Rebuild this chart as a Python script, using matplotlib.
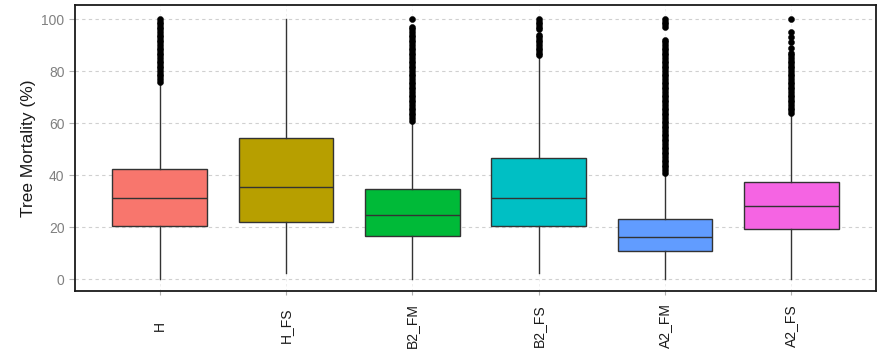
import matplotlib
matplotlib.use("Agg")
import matplotlib.pyplot as plt

plt.rcParams["font.family"] = ["Liberation Sans", "DejaVu Sans"]

# Scenarios and their tree-mortality distribution summaries (%)
scenarios = ["H", "H_FS", "B2_FM", "B2_FS", "A2_FM", "A2_FS"]
q1 = [20.6, 21.9, 16.8, 20.6, 11.0, 19.4]
median = [31.1, 35.6, 24.8, 31.1, 16.1, 28.3]
q3 = [42.5, 54.2, 34.6, 46.6, 23.2, 37.4]
whisker_low = [0.0, 2.3, 0.0, 2.5, 0.0, 0.0]
whisker_high = [75.0, 100.0, 60.0, 85.0, 40.5, 63.0]

# Outlying values above the upper whiskers
outliers_H = [76, 77, 78, 79, 80, 81, 82, 83, 84, 85, 86, 87, 88, 89, 90,
              91, 92, 93, 94, 95, 96, 97, 98, 99, 100]
outliers_H_FS = []
outliers_B2_FM = [61, 62, 63, 64, 65, 66, 67, 68, 69, 70, 71, 72, 73, 74, 75,
                  76, 77, 78, 79, 80, 81, 82, 83, 84, 85, 86, 87, 88, 89, 90,
                  91, 92, 93, 94, 95, 96, 97, 100]
outliers_B2_FS = [86, 87, 88, 89, 90, 91, 92, 93, 94, 96, 97, 98, 99, 100]
outliers_A2_FM = [41, 42, 43, 44, 45, 46, 47, 48, 49, 50, 51, 52, 53, 54, 55,
                  56, 57, 58, 59, 60, 61, 62, 63, 64, 65, 66, 67, 68, 69, 70,
                  71, 72, 73, 74, 75, 76, 77, 78, 79, 80, 81, 82, 83, 84, 85,
                  86, 87, 88, 89, 90, 91, 92, 97, 98, 99, 100]
outliers_A2_FS = [64, 65, 66, 67, 68, 69, 70, 71, 72, 73, 74, 75, 76, 77, 78,
                  79, 80, 81, 82, 83, 84, 85, 86, 87, 89, 91, 93, 95, 100]
outliers = [outliers_H, outliers_H_FS, outliers_B2_FM, outliers_B2_FS,
            outliers_A2_FM, outliers_A2_FS]

colors = ["#F8766D", "#B79F00", "#00BA38", "#00BFC4", "#619CFF", "#F564E3"]
y_ticks = [0, 20, 40, 60, 80, 100]

stats = []
for i, name in enumerate(scenarios):
    stats.append(dict(label=name, med=median[i], q1=q1[i], q3=q3[i],
                      whislo=whisker_low[i], whishi=whisker_high[i],
                      fliers=outliers[i]))

fig = plt.figure(figsize=(8.87, 3.54), dpi=100)
ax = fig.add_axes([75 / 887, 63 / 354, 801 / 887, 286 / 354])

positions = list(range(1, len(scenarios) + 1))
line_col = "#333333"
bp = ax.bxp(stats, positions=positions, widths=0.75, patch_artist=True,
            showcaps=False,
            boxprops=dict(edgecolor=line_col, linewidth=1.0),
            medianprops=dict(color=line_col, linewidth=1.0),
            whiskerprops=dict(color=line_col, linewidth=1.0),
            flierprops=dict(marker="o", markerfacecolor="black",
                            markeredgecolor="black", markersize=4.4,
                            markeredgewidth=0.3, linestyle="none"))
for patch, c in zip(bp["boxes"], colors):
    patch.set_facecolor(c)
    patch.set_zorder(3)
for key in ("medians", "whiskers", "fliers"):
    for art in bp[key]:
        art.set_zorder(3)

ax.set_xlim(0.33, 6.67)
ax.set_ylim(-4.5, 105.4)
ax.set_yticks(y_ticks)
ax.set_xticks(positions)
ax.set_xticklabels(scenarios, rotation=90, fontsize=10, color="#1a1a1a",
                   va="center", ha="center")
ax.tick_params(axis="y", labelsize=10, labelcolor="#808080", color="#b0b0b0",
               length=4, width=0.8)
ax.tick_params(axis="x", color="#b0b0b0", length=3, width=0.8, pad=22)

ax.grid(True, axis="y", linestyle=(0, (3, 3)), color="#d0d0d0", linewidth=0.8)
ax.grid(True, axis="x", linestyle=(0, (3, 3)), color="#ececec", linewidth=0.6)
ax.set_axisbelow(True)

for sp in ax.spines.values():
    sp.set_color("#1a1a1a")
    sp.set_linewidth(1.3)

ax.set_ylabel("Tree Mortality (%)", fontsize=12.5, color="#1a1a1a", labelpad=4)

fig.savefig("out.png", dpi=100)
